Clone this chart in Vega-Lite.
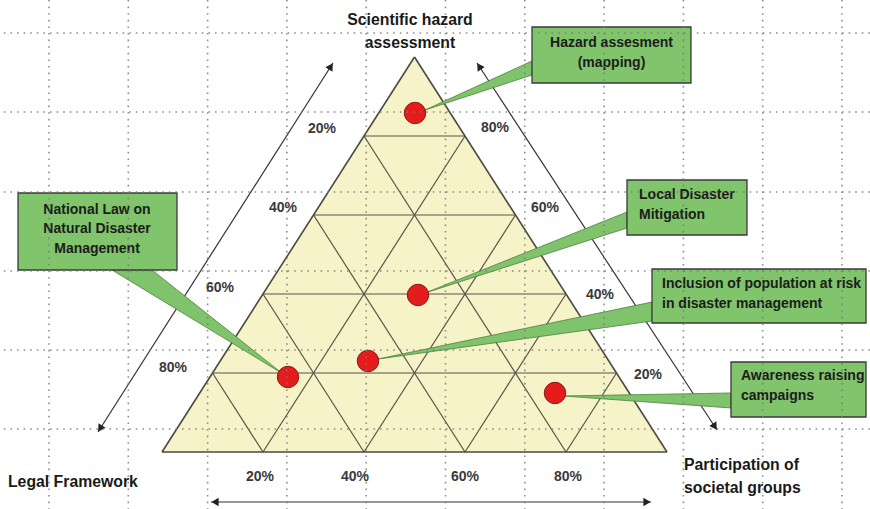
{
  "$schema": "https://vega.github.io/schema/vega-lite/v6.json",
  "width": 870,
  "height": 509,
  "autosize": "none",
  "padding": 0,
  "background": "white",
  "config": {"view": {"stroke": null}},
  "datasets": {
    "tri": [{"x": 0, "y": 0, "y2": 0}, {"x": 50, "y": 100, "y2": 0}, {"x": 100, "y": 0, "y2": 0}],
    "grid": [
      {"x": 10, "y": 20, "x2": 90, "y2": 20}, {"x": 20, "y": 40, "x2": 80, "y2": 40},
      {"x": 30, "y": 60, "x2": 70, "y2": 60}, {"x": 40, "y": 80, "x2": 60, "y2": 80},
      {"x": 20, "y": 0, "x2": 60, "y2": 80}, {"x": 40, "y": 0, "x2": 70, "y2": 60},
      {"x": 60, "y": 0, "x2": 80, "y2": 40}, {"x": 80, "y": 0, "x2": 90, "y2": 20},
      {"x": 20, "y": 0, "x2": 10, "y2": 20}, {"x": 40, "y": 0, "x2": 20, "y2": 40},
      {"x": 60, "y": 0, "x2": 30, "y2": 60}, {"x": 80, "y": 0, "x2": 40, "y2": 80}
    ],
    "edges": [
      {"x": 0, "y": 0, "x2": 100, "y2": 0}, {"x": 0, "y": 0, "x2": 50, "y2": 100},
      {"x": 100, "y": 0, "x2": 50, "y2": 100}
    ],
    "arrows": [
      {"id": "legal", "x": -12.67, "y": 5.06}, {"id": "legal", "x": 33.86, "y": 98.48},
      {"id": "part", "x": 62.38, "y": 98.48}, {"id": "part", "x": 109.9, "y": 5.57},
      {"id": "bottom", "x": 9.7, "y": -12.66}, {"id": "bottom", "x": 96.83, "y": -12.66}
    ],
    "heads": [
      {"x": 33.44, "y": 97.62, "angle": 32.5}, {"x": -12.26, "y": 5.92, "angle": 212.5},
      {"x": 62.81, "y": 97.63, "angle": 326.8}, {"x": 109.47, "y": 6.42, "angle": 146.8},
      {"x": 10.5, "y": -12.66, "angle": 270}, {"x": 96.04, "y": -12.66, "angle": 90}
    ],
    "wedgesV": [
      {"id": "hazard", "x": 73.27, "y": 98.99, "y2": 95.44}, {"id": "hazard", "x": 52.08, "y": 86.58, "y2": 86.58},
      {"id": "local", "x": 92.08, "y": 60.76, "y2": 56.71}, {"id": "local", "x": 52.08, "y": 40.25, "y2": 40.25},
      {"id": "incl", "x": 97.03, "y": 37.97, "y2": 33.16}, {"id": "incl", "x": 42.77, "y": 23.54, "y2": 23.54},
      {"id": "aware", "x": 112.67, "y": 14.94, "y2": 11.14}, {"id": "aware", "x": 79.41, "y": 14.18, "y2": 14.18}
    ],
    "wedgesH": [
      {"id": "law", "y": 46.08, "x": -9.9, "x2": -1.98}, {"id": "law", "y": 19.75, "x": 23.96, "x2": 23.96}
    ],
    "boxes": [
      {"id": "hazard", "x": 73.27, "x2": 104.75, "y": 107.59, "y2": 93.42},
      {"id": "local", "x": 92.08, "x2": 115.84, "y": 68.86, "y2": 54.94},
      {"id": "incl", "x": 97.03, "x2": 139.41, "y": 46.33, "y2": 32.66},
      {"id": "law", "x": -28.51, "x2": 2.97, "y": 65.57, "y2": 46.08},
      {"id": "aware", "x": 112.67, "x2": 139.41, "y": 22.78, "y2": 8.86}
    ],
    "points": [
      {"item": "Hazard assesment (mapping)", "x": 50.1, "y": 85.82},
      {"item": "Local Disaster Mitigation", "x": 50.69, "y": 39.75},
      {"item": "Inclusion of population at risk in disaster management", "x": 40.79, "y": 23.04},
      {"item": "National Law on Natural Disaster Management", "x": 24.95, "y": 18.99},
      {"item": "Awareness raising campaigns", "x": 77.82, "y": 14.94}
    ],
    "boxTextC": [
      {"x": 89.01, "y": 103.54, "label": "Hazard assesment\n(mapping)"},
      {"x": -12.87, "y": 61.27, "label": "National Law on\nNatural Disaster\nManagement"}
    ],
    "boxTextL": [
      {"x": 94.46, "y": 65.06, "label": "Local Disaster\nMitigation"},
      {"x": 99.01, "y": 42.53, "label": "Inclusion of population at risk\nin disaster management"},
      {"x": 114.65, "y": 19.24, "label": "Awareness raising\ncampaigns"}
    ],
    "pct": [
      {"x": 31.68, "y": 81.77, "label": "20%"}, {"x": 23.96, "y": 61.77, "label": "40%"},
      {"x": 11.49, "y": 41.52, "label": "60%"}, {"x": 2.18, "y": 21.27, "label": "80%"},
      {"x": 65.94, "y": 82.03, "label": "80%"}, {"x": 75.84, "y": 61.77, "label": "60%"},
      {"x": 86.73, "y": 39.75, "label": "40%"}, {"x": 96.24, "y": 19.49, "label": "20%"},
      {"x": 19.41, "y": -6.33, "label": "20%"}, {"x": 38.22, "y": -6.33, "label": "40%"},
      {"x": 60.0, "y": -6.33, "label": "60%"}, {"x": 80.4, "y": -6.33, "label": "80%"}
    ],
    "titleC": [{"x": 49.11, "y": 109.37, "label": "Scientific hazard\nassessment"}],
    "titleL": [
      {"x": -30.5, "y": -7.59, "label": "Legal Framework"},
      {"x": 103.37, "y": -3.29, "label": "Participation of\nsocietal groups"}
    ],
    "dotV": [
      {"x": -22.38}, {"x": -6.67}, {"x": 9.03}, {"x": 24.73}, {"x": 40.44}, {"x": 56.14},
      {"x": 71.84}, {"x": 87.54}, {"x": 103.25}, {"x": 118.95}, {"x": 134.65}
    ],
    "dotH": [
      {"y": 106.08}, {"y": 86.08}, {"y": 65.82}, {"y": 45.82}, {"y": 25.82}, {"y": 5.82}
    ]
  },
  "layer": [
    {
      "data": {"name": "tri"},
      "mark": {"type": "area", "fill": "#f6f3c8", "stroke": null},
      "encoding": {
        "x": {"field": "x", "type": "quantitative", "scale": {"domain": [-32.079, 140.198], "nice": false, "zero": false}, "axis": null},
        "y": {"field": "y", "type": "quantitative", "scale": {"domain": [-14.43, 114.43], "nice": false, "zero": false}, "axis": null},
        "y2": {"field": "y2"}
      }
    },
    {
      "data": {"name": "grid"},
      "mark": {"type": "rule", "stroke": "#555548", "strokeWidth": 1.2},
      "encoding": {
        "x": {"field": "x", "type": "quantitative", "scale": {"domain": [-32.079, 140.198], "nice": false, "zero": false}, "axis": null},
        "y": {"field": "y", "type": "quantitative", "scale": {"domain": [-14.43, 114.43], "nice": false, "zero": false}, "axis": null},
        "x2": {"field": "x2"},
        "y2": {"field": "y2"}
      }
    },
    {
      "data": {"name": "edges"},
      "mark": {"type": "rule", "stroke": "#4a4a40", "strokeWidth": 1.6},
      "encoding": {
        "x": {"field": "x", "type": "quantitative", "scale": {"domain": [-32.079, 140.198], "nice": false, "zero": false}, "axis": null},
        "y": {"field": "y", "type": "quantitative", "scale": {"domain": [-14.43, 114.43], "nice": false, "zero": false}, "axis": null},
        "x2": {"field": "x2"},
        "y2": {"field": "y2"}
      }
    },
    {
      "data": {"name": "arrows"},
      "mark": {"type": "line", "stroke": "#333333", "strokeWidth": 1.2},
      "encoding": {
        "x": {"field": "x", "type": "quantitative", "scale": {"domain": [-32.079, 140.198], "nice": false, "zero": false}, "axis": null},
        "y": {"field": "y", "type": "quantitative", "scale": {"domain": [-14.43, 114.43], "nice": false, "zero": false}, "axis": null},
        "detail": {"field": "id"}
      }
    },
    {
      "data": {"name": "heads"},
      "mark": {"type": "point", "shape": "triangle-up", "filled": true, "fill": "#222222", "size": 70, "opacity": 1},
      "encoding": {
        "x": {"field": "x", "type": "quantitative", "scale": {"domain": [-32.079, 140.198], "nice": false, "zero": false}, "axis": null},
        "y": {"field": "y", "type": "quantitative", "scale": {"domain": [-14.43, 114.43], "nice": false, "zero": false}, "axis": null},
        "angle": {"field": "angle", "type": "quantitative", "scale": null}
      }
    },
    {
      "data": {"name": "wedgesV"},
      "mark": {"type": "area", "orient": "vertical", "fill": "#7fc36c", "stroke": "#4f7f3f", "strokeWidth": 0.8},
      "encoding": {
        "x": {"field": "x", "type": "quantitative", "scale": {"domain": [-32.079, 140.198], "nice": false, "zero": false}, "axis": null},
        "y": {"field": "y", "type": "quantitative", "scale": {"domain": [-14.43, 114.43], "nice": false, "zero": false}, "axis": null},
        "y2": {"field": "y2"},
        "detail": {"field": "id"}
      }
    },
    {
      "data": {"name": "wedgesH"},
      "mark": {"type": "area", "orient": "horizontal", "fill": "#7fc36c", "stroke": "#4f7f3f", "strokeWidth": 0.8},
      "encoding": {
        "y": {"field": "y", "type": "quantitative", "scale": {"domain": [-14.43, 114.43], "nice": false, "zero": false}, "axis": null},
        "x": {"field": "x", "type": "quantitative", "scale": {"domain": [-32.079, 140.198], "nice": false, "zero": false}, "axis": null},
        "x2": {"field": "x2"},
        "detail": {"field": "id"}
      }
    },
    {
      "data": {"name": "boxes"},
      "mark": {"type": "rect", "fill": "#80c46c", "stroke": "#3a3a3a", "strokeWidth": 1.3},
      "encoding": {
        "x": {"field": "x", "type": "quantitative", "scale": {"domain": [-32.079, 140.198], "nice": false, "zero": false}, "axis": null},
        "y": {"field": "y", "type": "quantitative", "scale": {"domain": [-14.43, 114.43], "nice": false, "zero": false}, "axis": null},
        "x2": {"field": "x2"},
        "y2": {"field": "y2"}
      }
    },
    {
      "data": {"name": "points"},
      "mark": {"type": "point", "shape": "circle", "filled": true, "fill": "#e41c1c", "stroke": "#8a1818", "strokeWidth": 1, "size": 460, "opacity": 1},
      "encoding": {
        "x": {"field": "x", "type": "quantitative", "scale": {"domain": [-32.079, 140.198], "nice": false, "zero": false}, "axis": null},
        "y": {"field": "y", "type": "quantitative", "scale": {"domain": [-14.43, 114.43], "nice": false, "zero": false}, "axis": null}
      }
    },
    {
      "data": {"name": "boxTextC"},
      "mark": {"type": "text", "align": "center", "baseline": "middle", "lineBreak": "\n", "lineHeight": 19.5, "font": "Liberation Sans", "fontWeight": "bold", "fontSize": 14, "fill": "#1c1c1c"},
      "encoding": {
        "x": {"field": "x", "type": "quantitative", "scale": {"domain": [-32.079, 140.198], "nice": false, "zero": false}, "axis": null},
        "y": {"field": "y", "type": "quantitative", "scale": {"domain": [-14.43, 114.43], "nice": false, "zero": false}, "axis": null},
        "text": {"field": "label"}
      }
    },
    {
      "data": {"name": "boxTextL"},
      "mark": {"type": "text", "align": "left", "baseline": "middle", "lineBreak": "\n", "lineHeight": 19.5, "font": "Liberation Sans", "fontWeight": "bold", "fontSize": 14, "fill": "#1c1c1c"},
      "encoding": {
        "x": {"field": "x", "type": "quantitative", "scale": {"domain": [-32.079, 140.198], "nice": false, "zero": false}, "axis": null},
        "y": {"field": "y", "type": "quantitative", "scale": {"domain": [-14.43, 114.43], "nice": false, "zero": false}, "axis": null},
        "text": {"field": "label"}
      }
    },
    {
      "data": {"name": "pct"},
      "mark": {"type": "text", "align": "center", "baseline": "middle", "font": "Liberation Sans", "fontWeight": "bold", "fontSize": 14, "fill": "#3a3a3a"},
      "encoding": {
        "x": {"field": "x", "type": "quantitative", "scale": {"domain": [-32.079, 140.198], "nice": false, "zero": false}, "axis": null},
        "y": {"field": "y", "type": "quantitative", "scale": {"domain": [-14.43, 114.43], "nice": false, "zero": false}, "axis": null},
        "text": {"field": "label"}
      }
    },
    {
      "data": {"name": "titleC"},
      "mark": {"type": "text", "align": "center", "baseline": "middle", "lineBreak": "\n", "lineHeight": 23, "font": "Liberation Sans", "fontWeight": "bold", "fontSize": 15.8, "fill": "#1a1a1a"},
      "encoding": {
        "x": {"field": "x", "type": "quantitative", "scale": {"domain": [-32.079, 140.198], "nice": false, "zero": false}, "axis": null},
        "y": {"field": "y", "type": "quantitative", "scale": {"domain": [-14.43, 114.43], "nice": false, "zero": false}, "axis": null},
        "text": {"field": "label"}
      }
    },
    {
      "data": {"name": "titleL"},
      "mark": {"type": "text", "align": "left", "baseline": "middle", "lineBreak": "\n", "lineHeight": 23, "font": "Liberation Sans", "fontWeight": "bold", "fontSize": 15.8, "fill": "#1a1a1a"},
      "encoding": {
        "x": {"field": "x", "type": "quantitative", "scale": {"domain": [-32.079, 140.198], "nice": false, "zero": false}, "axis": null},
        "y": {"field": "y", "type": "quantitative", "scale": {"domain": [-14.43, 114.43], "nice": false, "zero": false}, "axis": null},
        "text": {"field": "label"}
      }
    },
    {
      "data": {"name": "dotV"},
      "mark": {"type": "rule", "stroke": "#7a7a7a", "strokeWidth": 1.6, "strokeDash": [1.6, 5], "opacity": 0.85},
      "encoding": {
        "x": {"field": "x", "type": "quantitative", "scale": {"domain": [-32.079, 140.198], "nice": false, "zero": false}, "axis": null}
      }
    },
    {
      "data": {"name": "dotH"},
      "mark": {"type": "rule", "stroke": "#7a7a7a", "strokeWidth": 1.6, "strokeDash": [1.6, 5], "opacity": 0.85},
      "encoding": {
        "y": {"field": "y", "type": "quantitative", "scale": {"domain": [-14.43, 114.43], "nice": false, "zero": false}, "axis": null}
      }
    }
  ]
}
